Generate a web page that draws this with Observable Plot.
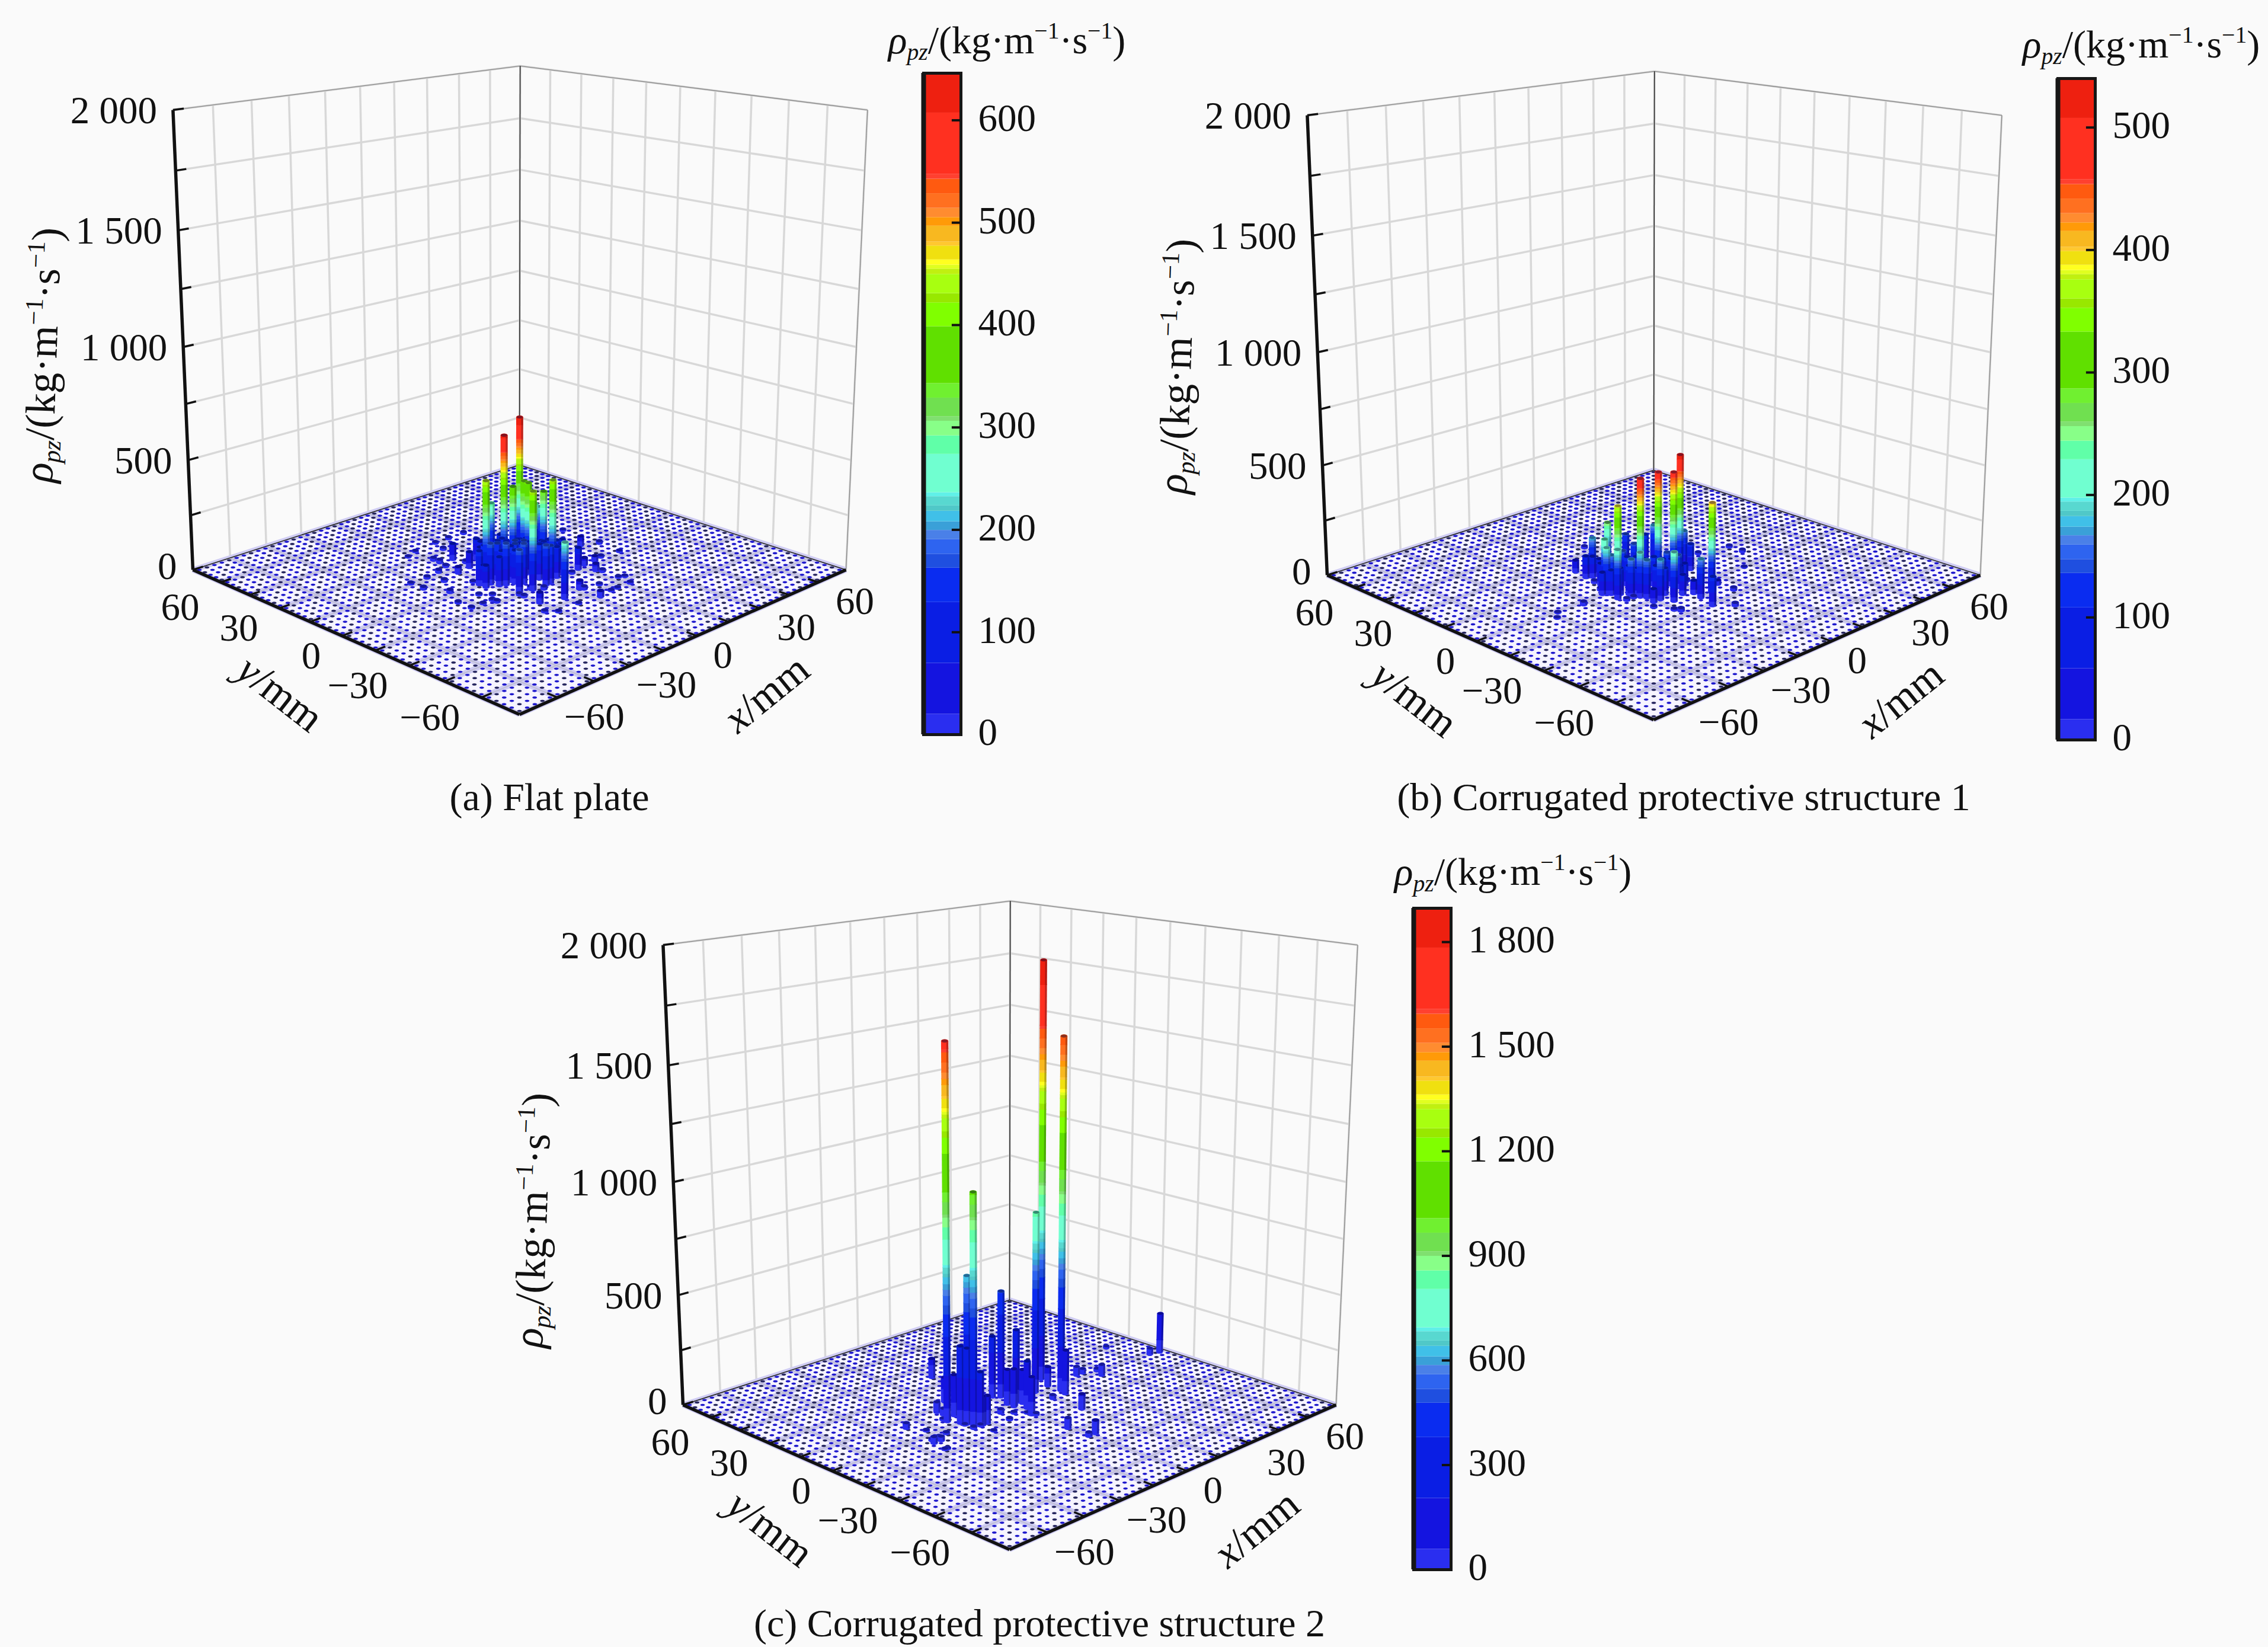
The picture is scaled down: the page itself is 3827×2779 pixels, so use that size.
<!doctype html><html><head><meta charset="utf-8">
<style>
html,body{margin:0;padding:0;background:#fafafa}
#page{position:relative;width:3827px;height:2779px;background:#fafafa;overflow:hidden;font-family:'Liberation Serif',serif;color:#111}
.panel{position:absolute;width:1910px;height:1370px}
.panel svg{position:absolute;top:0;overflow:visible;background:transparent}
.lab{position:absolute;white-space:nowrap;font-size:66px;line-height:1;transform:translate(-50%,-50%)}
.lab sub,.lab sup{font-size:.6em;line-height:0}
.lab sup{vertical-align:.62em}.lab sub{vertical-align:-.28em}
.cap{font-size:66px}
.tall{font-size:71px}
</style></head><body><div id="page"></div>
<script src="https://cdn.jsdelivr.net/npm/d3@7"></script>
<script src="https://cdn.jsdelivr.net/npm/@observablehq/plot@0.6"></script>
<script>
// Values: [x mm, y mm, rho_pz]
const barsA=[[8,8,645],[-5,2,620],[-14,1,450],[-4,9,290],[2,0,400],[-2,1,385],[-9,-15,440],[1,-3,405],[12,3,240],[7,-4,350],[3,-12,440],[3,12,110],[7,0,280],[-18,0,154],[-13,3,150],[-15,-2,184],[-11,-1,167],[-12,-6,188],[-9,-5,162],[-13,-13,188],[-7,-9,180],[-3,-9,167],[-1,-10,160],[-3,-15,180],[-1,-15,171],[8,-9,141],[11,-8,111],[-3,17,94],[-10,13,73],[-5,13,103],[-5,6,120],[-2,5,137],[3,3,120],[4,-3,128],[7,-6,137],[18,-2,85],[-10,3,140],[-6,2,160],[-3,-1,150],[0,-4,140],[3,-7,150],[6,-10,130],[-9,22,75],[30,1,45],[14,-13,100],[-7,-27,250],[-15,-24,48],[2,-25,40],[2,-34,28],[17,-18,34],[-16,12,30],[18,-12,35],[23,-12,25],[10,37,10],[3,37,10],[-3,37,8],[-5,31,10],[-14,26,14],[-14,23,16],[-13,36,6],[-18,34,6],[-15,19,10],[-20,17,14],[-8,17,12],[-26,16,10],[-33,16,8],[-33,10,12],[-24,10,12],[-29,2,14],[-18,3,8],[-24,-6,8],[-21,-9,8],[-24,-12,8],[-24,-14,10],[-28,-12,6],[-33,-6,8],[-33,-12,8],[-15,-17,10],[-15,-15,10],[-9,-14,14],[-6,-17,14],[-19,-30,8],[-16,-33,6],[-7,-33,6],[3,-26,14],[9,-27,8],[17,-33,8],[11,-33,6],[8,-33,6],[18,-20,12],[36,-2,12],[35,-12,8],[27,-11,10],[20,-28,6],[18,-27,6],[10,-14,10],[36,15,8],
 [-11,7,120],[-9,5,140],[-7,3,150],[-5,1,150],[-3,-2,160],[-1,-4,150],[1,-6,150],[3,-8,150],[5,-10,140],[7,-12,110],[-15,3,110],[-13,1,130],[-11,-3,140],[-9,-7,150],[-5,-5,160],[-1,-8,150],[1,-10,150],[4,-13,140],[-14,-5,130],[-17,-1,90],[-18,-3,100],[-7,-1,160],[-5,-3,165],[-7,-5,165],[-3,-5,165],[-1,-1,150],[1,-2,150],[3,-3,130],[5,-6,130],[9,-5,100],[-9,1,150],[-7,5,120]];
const barsB=[[9,-3,530],[-2,-4,490],[3,-6,480],[-12,-6,500],[-18,-2,385],[3,-23,400],[-13,8,260],[-20,2,230],[-15,13,180],[0,13,145],[8,8,175],[6,10,132],[-5,4,150],[12,-2,170],[12,-5,120],[-3,-24,175],[-11,-20,220],[-5,-31,130],[-16,20,55],[-17,14,100],[-15,13,95],[-13,12,80],[-22,-1,210],[-20,-1,170],[-22,-6,220],[-12,2,150],[-18,-8,170],[-16,-10,200],[-15,-12,170],[-16,-16,60],[-13,-16,180],[-3,-9,150],[-2,-13,150],[1,-13,100],[-2,-20,60],[2,-19,100],[9,-20,20],[1,34,10],[-18,9,12],[-21,3,12],[-33,-2,16],[-21,-9,12],[-18,-9,10],[-19,-19,8],[-16,-25,8],[-15,-27,14],[36,0,10],[36,-6,12],[24,3,10],[9,-27,14],[0,-36,14],[26,-16,5],[-43,-1,5],[-46,-4,5],[8,8,10],[4,-11,10],
 [-23,0,100],[-21,-2,110],[-19,-4,120],[-17,-6,130],[-15,-8,120],[-13,-10,110],[-11,-12,130],[-9,-14,120],[-7,-16,100],[-5,-18,90],[-18,6,100],[-16,4,120],[-14,2,130],[-12,0,130],[-10,-2,130],[-8,-4,120],[-6,-6,130],[-4,-8,120],[-2,-10,120],[0,-12,90]];
const barsC=[[-24,4,1640],[24,9,1890],[21,-3,1590],[-20,-4,1020],[14,2,824],[-18,1,640],[3,7,487],[3,0,334],[72,-2,190],[-1,36,91],[-22,0,346],[-21,-2,340],[-19,-6,242],[-19,6,186],[-13,17,113],[-16,-6,125],[-18,-6,130],[1,9,281],[0,1,160],[0,-2,173],[4,-2,156],[2,-6,216],[-1,-11,173],[21,3,91],[20,-6,203],[35,3,43],[38,3,22],[41,-3,52],[43,1,13],[14,-6,18],[14,-19,70],[-1,-27,48],[2,-36,60],[-1,-36,18],[68,-1,30],[62,14,10],[-21,12,48],[-21,9,30],[-22,6,15],[-24,6,8],[-9,-9,10],[-7,-3,20],[-34,3,6],[-31,-3,8],[-39,-6,30],[-36,-6,20],[-40,-12,6],[-19,-12,5],[0,-12,10],[-1,-9,6],[-4,-6,8],[-19,-6,8],[-22,-6,10],[-22,-2,6],[-18,6,5],[-37,9,25],[-38,-4,10],[-35,-4,10],[-39,-12,5]];

// Axes
const axisX=[-60,-30,0,30,60], axisXLabels=["−60","−30","0","30","60"];
const axisMinor=[-75,-60,-45,-30,-15,0,15,30,45,60,75];
const axisZ=[0,500,1000,1500,2000], axisZLabels=["0","500","1 000","1 500","2 000"];
const axisZMinor=[0,250,500,750,1000,1250,1500,1750,2000];
const cell=d3.range(-73.5,75,3);

// Colour bands: upper edge of each band as a share of the bar's top value, and its colour
const bandEdges=[.031,.108,.2,.252,.273,.295,.309,.322,.338,.346,.36,.366,.424,.452,.474,.481,.509,.531,.617,.653,.667,.696,.704,.71,.718,.739,.745,.769,.782,.796,.818,.84,.847,.94,1];
const bandColors=["#2a2ef0","#1414e0","#0a1ee4","#0a2cf0","#1f4fe0","#2e64f0","#4a80e8","#3aa0d8","#40c0e8","#50c8c8","#58d8d0","#60f0e8","#70ffd0","#60ffa8","#88ff88","#80e070","#70e050","#70f030","#60e000","#80ff00","#98e800","#a8ff10","#c0f010","#e0ff20","#ffff20","#f0e010","#ffc830","#f8b820","#ff9a08","#ff8c30","#ff7020","#ff5a10","#ff4030","#ff3020","#ee2010"];

const panels=[
 {bars:barsA,max:646,ticks:[0,100,200,300,400,500,600],labels:["0","100","200","300","400","500","600"],left:0,top:0,caption:"(a) Flat plate",capX:927,capY:1345,titleX:1699,titleY:68,zY:599},
 {bars:barsB,max:540,ticks:[0,100,200,300,400,500],labels:["0","100","200","300","400","500"],left:1914,top:9,caption:"(b) Corrugated protective structure 1",capX:927,capY:1336,titleX:1699,titleY:66,zY:609},
 {bars:barsC,max:1897,ticks:[0,300,600,900,1200,1500,1800],labels:["0","300","600","900","1 200","1 500","1 800"],left:827,top:1409,caption:"(c) Corrugated protective structure 2",capX:927,capY:1330,titleX:1726,titleY:62,zY:650}
];

// Perspective camera of the box (same view in all three panels)
const cam={cx:876,cy:961,half:551,a:-52.2,beta:.1591,gamma:-.0597,px:-51,py:-787};
function proj(x,y,z){
  const s=(x+y)/150,d=(x-y)/150,t=z/2000;
  const w=1+cam.beta*s+cam.gamma*t;
  return {px:(cam.cx*(1+cam.beta*s)+cam.half*d+cam.px*t)/w, py:(cam.cy+cam.a*s+cam.py*t)/w, w};
}
const seg=(a,b)=>{const p=proj(...a),q=proj(...b);return {x1:p.px,y1:p.py,x2:q.px,y2:q.py}};
const XY={x1:"x1",y1:"y1",x2:"x2",y2:"y2"};
const flat={draw(c,size){const r=Math.sqrt(size/Math.PI),ry=.48*r,k=.5523;
  c.moveTo(r,0);c.bezierCurveTo(r,k*ry,k*r,ry,0,ry);c.bezierCurveTo(-k*r,ry,-r,k*ry,-r,0);c.bezierCurveTo(-r,-k*ry,-k*r,-ry,0,-ry);c.bezierCurveTo(k*r,-ry,r,-k*ry,r,0);c.closePath();}};
const serif="Liberation Serif";

function barMarks(P){
  const thresholds=bandEdges.map(e=>e*P.max);
  const sorted=P.bars.slice().sort((a,b)=>(b[0]+b[1])-(a[0]+a[1]));
  return sorted.flatMap(([x,y,z])=>{
    const edges=[0,...thresholds.filter(t=>t<z),z];
    const rows=d3.pairs(edges).map(([a,b],i,all)=>({...seg([x,y,a],[x,y,i<all.length-1?b+P.max*.002:b]),v:(a+b)/2}));
    const base=proj(x,y,0),top=proj(x,y,z);
    const w=12/base.w, whole=seg([x,y,0],[x,y,z]);
    return [
      Plot.dot([{x:base.px,y:base.py,v:1}],{x:"x",y:"y",r:w/2,symbol:flat,fill:"v",stroke:"none"}),
      Plot.link(rows,{...XY,stroke:"v",strokeWidth:w,strokeLinecap:"butt"}),
      Plot.link([whole],{...XY,stroke:"#000010",strokeOpacity:.25,strokeWidth:w*.28,dx:w*.36}),
      Plot.dot([{x:top.px,y:top.py,v:z}],{x:"x",y:"y",r:w/2,symbol:flat,fill:"v",stroke:"none"}),
      Plot.dot([{x:top.px,y:top.py}],{x:"x",y:"y",r:w/2.2,symbol:flat,fill:"#000030",fillOpacity:.45,stroke:"none"})
    ];
  });
}

function box(P){
  const wall=[], grid=[];
  for(const v of axisMinor){
    wall.push(seg([v,75,0],[v,75,2000]),seg([75,v,0],[75,v,2000]));
    grid.push(seg([v,-75,0],[v,75,0]),seg([-75,v,0],[75,v,0]));
  }
  for(const v of axisZMinor) wall.push(seg([-75,75,v],[75,75,v]),seg([75,75,v],[75,-75,v]));
  const floor=[[-75,75],[-75,-75],[75,-75],[75,75]].map(([x,y])=>proj(x,y,0));
  const dots=d3.cross(d3.range(50),d3.range(50)).map(([i,j])=>{const p=proj(cell[i],cell[j],0);return {x:p.px,y:p.py,k:(i+2*j)%3}});
  const dark=[seg([-75,75,0],[75,75,0]),seg([75,75,0],[75,-75,0]),seg([75,75,0],[75,75,2000])];
  const pale=[seg([-75,75,2000],[75,75,2000]),seg([75,75,2000],[75,-75,2000]),seg([75,-75,0],[75,-75,2000])];
  const thick=[seg([-75,75,0],[-75,75,2000]),seg([-75,75,0],[-75,-75,0]),seg([-75,-75,0],[75,-75,0])];
  const ticks=[];
  for(const v of axisMinor.slice(1,-1)) ticks.push(seg([-75,v,0],[-71,v,0]),seg([v,-75,0],[v,-71,0]));
  for(const v of axisZMinor) ticks.push(seg([-75,75,v],[-71,75,v]));
  const yLab=axisX.map((v,i)=>{const p=proj(-75,v,0);return {x:p.px,y:p.py,t:axisXLabels[i]}});
  const xLab=axisX.map((v,i)=>{const p=proj(v,-75,0);return {x:p.px,y:p.py,t:axisXLabels[i]}});
  const zLab=axisZ.map((v,i)=>{const p=proj(-75,75,v);return {x:p.px,y:p.py,t:axisZLabels[i]}});
  const txt={x:"x",y:"y",text:"t",fontFamily:serif,fontSize:65,fill:"#111"};
  return Plot.plot({
    width:1490,height:1370,margin:0,
    style:{background:"transparent",overflow:"visible"},
    x:{domain:[0,1490],range:[0,1490],axis:null},
    y:{domain:[0,1370],range:[0,1370],axis:null},
    color:{type:"threshold",domain:bandEdges.slice(0,-1).map(e=>e*P.max),range:bandColors},
    marks:[
      Plot.link(wall,{...XY,stroke:"#d8d8d8",strokeWidth:3.5}),
      Plot.line(floor,{x:"px",y:"py",fill:"#f6f4ff",stroke:"none"}),
      Plot.link(grid,{...XY,stroke:"#cfccf3",strokeWidth:9}),
      Plot.link(grid,{...XY,stroke:"#b8b8c6",strokeWidth:2,strokeOpacity:.7}),
      Plot.dot(dots.filter(d=>d.k),{x:"x",y:"y",r:3.9,symbol:flat,fill:"#1e18cc",stroke:"none"}),
      Plot.dot(dots.filter(d=>!d.k),{x:"x",y:"y",r:3.9,symbol:flat,fill:"#26265f",stroke:"none"}),
      Plot.link(pale,{...XY,stroke:"#8a8a8a",strokeWidth:1.3}),
      Plot.link(dark,{...XY,stroke:"#222",strokeWidth:1.5}),
      Plot.link(ticks,{...XY,stroke:"#111",strokeWidth:3.5}),
      Plot.link(thick,{...XY,stroke:"#111",strokeWidth:5.5}),
      ...barMarks(P),
      Plot.text(zLab.filter(d=>d.t!=="0"),{...txt,textAnchor:"end",dx:-27,dy:2}),
      Plot.text(zLab.filter(d=>d.t==="0"),{...txt,textAnchor:"end",dx:-27,dy:-5}),
      Plot.text(yLab.filter(d=>d.t!=="60"),{...txt,textAnchor:"end",dx:-36,dy:34}),
      Plot.text(yLab.filter(d=>d.t==="60"),{...txt,textAnchor:"end",dx:-36,dy:43}),
      Plot.text(xLab.filter(d=>d.t!=="0"),{...txt,dx:62,dy:33}),
      Plot.text(xLab.filter(d=>d.t==="0"),{...txt,dx:44,dy:33})
    ]
  });
}

function colorbar(P){
  const uppers=bandEdges.map(e=>e*P.max);
  const bands=uppers.map((u,i)=>({y1:i?uppers[i-1]:0,y2:u,v:(u+(i?uppers[i-1]:0))/2}));
  return Plot.plot({
    width:420,height:1370,marginLeft:68,marginRight:289,marginTop:123,marginBottom:131,
    style:{background:"transparent",overflow:"visible"},
    x:{domain:[0,1],axis:null},
    y:{domain:[0,P.max],axis:null},
    color:{type:"threshold",domain:uppers.slice(0,-1),range:bandColors},
    marks:[
      Plot.rect(bands,{x1:0,x2:1,y1:"y1",y2:"y2",fill:"v"}),
      Plot.frame({stroke:"#161616",strokeWidth:5}),
      Plot.ruleX([0],{stroke:"#161616",strokeWidth:8}),
      Plot.ruleY(P.ticks.filter(t=>t>0),{x1:.76,x2:1,stroke:"#111",strokeWidth:4}),
      Plot.text(P.labels,{x:()=>1,y:(d,i)=>P.ticks[i],text:d=>d,dx:29,dy:-3,textAnchor:"start",fontFamily:serif,fontSize:65,fill:"#111"})
    ]
  });
}

const unit='<i>ρ<sub>pz</sub></i>/(kg·m<sup>−1</sup>·s<sup>−1</sup>)';
function label(parent,html,x,y,rot,cls){
  const el=document.createElement("div");el.className="lab"+(cls?" "+cls:"");el.innerHTML=html;
  el.style.left=x+"px";el.style.top=y+"px";
  if(rot) el.style.transform=`translate(-50%,-50%) rotate(${rot}deg)`;
  parent.append(el);
}
const page=document.getElementById("page");
for(const P of panels){
  const div=document.createElement("div");div.className="panel";
  div.style.left=P.left+"px";div.style.top=P.top+"px";
  const a=box(P);a.style.left="0px";
  const b=colorbar(P);b.style.left="1490px";
  div.append(a,b);
  label(div,unit,P.titleX,P.titleY);
  label(div,unit,72,P.zY,-88,"tall");
  label(div,'<i>x</i>/mm',1293,1170,-39,"tall");
  label(div,'<i>y</i>/mm',473,1170,38,"tall");
  label(div,P.caption,P.capX,P.capY,0,"cap");
  page.append(div);
}
</script></body></html>
